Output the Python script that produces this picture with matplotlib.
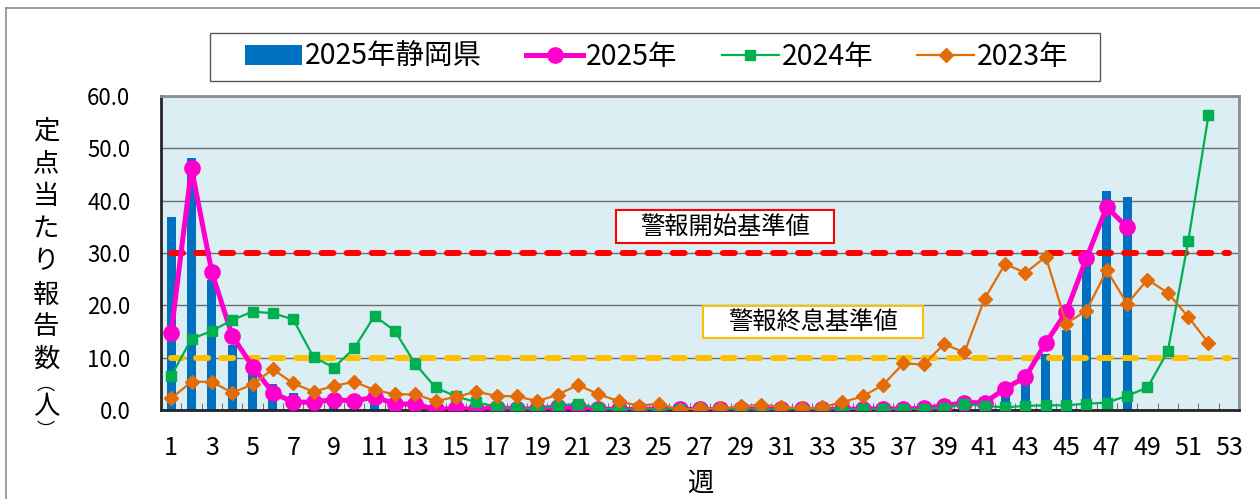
import matplotlib
matplotlib.use('Agg')
import matplotlib.pyplot as plt
from matplotlib.lines import Line2D
from matplotlib.patches import Patch, Rectangle
import numpy as np

plt.rcParams['font.family'] = ['Noto Sans CJK JP', 'DejaVu Sans']

# データ（週ごとの定点当たり報告数）
weeks = np.arange(1, 54)
week_labels = [str(w) for w in range(1, 54, 2)]

shizuoka_2025 = [36.8, 48.2, 24.8, 12.5, 7.5, 5.0, 3.3, 1.5, 1.5, 1.5,
                 3.5, 1.2, 1.0, 0.2, 0.2, 0.1, 0.2, 0.1, 0.1, 0.3,
                 0.3, 0.1, 0.1, 0.1, 0.1, 0.1, 0.1, 0.1, 0.1, 0.1,
                 0.1, 0.1, 0.1, 0.1, 0.1, 0.1, 0.2, 0.3, 0.6, 1.0,
                 1.2, 3.7, 6.5, 10.7, 15.2, 28.0, 41.8, 40.7]
y2025 = [14.7, 46.2, 26.3, 14.2, 8.3, 3.3, 1.5, 1.5, 2.0, 1.7,
         2.5, 1.2, 1.1, 0.1, 0.3, 0.1, 0.4, 0.2, 0.2, 0.6,
         0.5, 0.2, 0.1, 0.1, 0.1, 0.1, 0.1, 0.1, 0.1, 0.1,
         0.1, 0.1, 0.1, 0.1, 0.2, 0.2, 0.2, 0.3, 0.8, 1.4,
         1.4, 4.1, 6.3, 12.8, 18.7, 29.0, 38.8, 34.9]
y2024 = [6.5, 13.6, 15.1, 17.2, 18.8, 18.5, 17.3, 10.1, 8.1, 11.8,
         18.0, 15.1, 8.8, 4.3, 2.6, 1.5, 0.6, 0.3, 0.2, 0.8,
         1.2, 0.3, 0.1, 0.1, 0.1, 0.1, 0.1, 0.1, 0.1, 0.1,
         0.1, 0.1, 0.1, 0.1, 0.1, 0.1, 0.1, 0.2, 0.4, 1.1,
         0.8, 0.5, 0.8, 0.9, 0.9, 1.2, 1.4, 2.7, 4.3, 11.2,
         32.2, 56.3]
y2023 = [2.2, 5.4, 5.4, 3.3, 4.9, 7.8, 5.1, 3.5, 4.6, 5.4,
         3.8, 3.0, 3.0, 1.7, 2.5, 3.5, 2.7, 2.6, 1.7, 2.9,
         4.8, 3.0, 1.7, 0.8, 1.2, 0.0, 0.3, 0.3, 0.7, 1.0,
         0.6, 0.3, 0.5, 1.5, 2.6, 4.8, 8.9, 8.7, 12.6, 11.0,
         21.3, 27.9, 26.2, 29.3, 16.5, 19.0, 26.7, 20.3, 24.9, 22.4,
         17.8, 12.8]

alert_start = 30.0   # 警報開始基準値
alert_end = 10.0     # 警報終息基準値

W, H = 1260, 499
fig = plt.figure(figsize=(W / 100, H / 100), dpi=100)
ax = fig.add_axes([161 / W, 1 - 410 / H, (1239 - 161) / W, (410 - 96) / H])
ax.set_facecolor('#DAEEF3')


def fig_box(x0, y0, x1, y1, ec, lw, fc='none'):
    # ピクセル座標(左上原点)で枠を描く
    r = Rectangle((x0 / W, 1 - y1 / H), (x1 - x0) / W, (y1 - y0) / H,
                  transform=fig.transFigure, fc=fc, ec=ec, lw=lw, zorder=8)
    fig.add_artist(r)


# 棒グラフ（静岡県）
ax.bar(weeks[:len(shizuoka_2025)], shizuoka_2025, width=0.45, color='#0070C0', zorder=2)

# 基準値の破線
ax.plot(weeks, [alert_start] * len(weeks), color='#FF0000', lw=4.3,
        dashes=(2.0, 2.2), dash_capstyle='round', zorder=3)
ax.plot(weeks, [alert_end] * len(weeks), color='#FFC000', lw=4.3,
        dashes=(2.0, 2.2), dash_capstyle='round', zorder=3)

# 折れ線
ax.plot(weeks[:len(y2025)], y2025, color='#FF00CC', lw=3.6, marker='o', ms=11, zorder=4)
ax.plot(weeks[:len(y2024)], y2024, color='#00B050', lw=1.6, marker='s', ms=7, zorder=5)
ax.plot(weeks[:len(y2023)], y2023, color='#E36C09', lw=1.6, marker='D', ms=7, zorder=6)

# 軸
ax.set_xlim(0.5, 53.5)
ax.set_ylim(0, 60)
ax.set_yticks(np.arange(0, 61, 10))
ax.set_yticklabels([f'{v:.1f}' for v in np.arange(0, 61, 10)], fontsize=16)
ax.set_xticks(range(1, 54, 2))
ax.set_xticklabels(week_labels, fontsize=18)
ax.set_xticks(np.arange(1.5, 53, 1), minor=True)
ax.tick_params(axis='y', length=0, pad=22)
ax.tick_params(axis='x', which='major', length=0, pad=18)
ax.tick_params(axis='x', which='minor', length=5, direction='in', color='#595959')
ax.grid(axis='y', color='#6d6d6d', lw=1, zorder=1)
ax.set_axisbelow(True)
for s in ['top', 'right']:
    ax.spines[s].set_color('#8c8c8c')
    ax.spines[s].set_linewidth(2)
for s in ['left', 'bottom']:
    ax.spines[s].set_color('#262626')
    ax.spines[s].set_linewidth(2)

ax.set_xlabel('週', fontsize=19, labelpad=6)

# 縦書きの軸ラベル
ylab_chars = ['定', '点', '当', 'た', 'り', '報', '告', '数', '︵', '人', '︶']
ylab_y = [131, 164, 196, 229, 262, 295, 327, 359, 385, 407, 431]
ylab_fs = [19, 19, 19, 19, 19, 19, 19, 19, 13, 19, 13]
for ch, yy, fs in zip(ylab_chars, ylab_y, ylab_fs):
    fig.text(46 / W, 1 - yy / H, ch, fontsize=fs, ha='center', va='center')

# 基準値ラベル
fig_box(616, 210, 834, 243, '#FF0000', 1.5, fc='white')
fig.text(725 / W, 1 - 226.5 / H, '警報開始基準値', fontsize=17.5,
         ha='center', va='center', zorder=9)
fig_box(703, 306, 923, 338, '#FFC000', 1.5, fc='white')
fig.text(813 / W, 1 - 322 / H, '警報終息基準値', fontsize=17.5,
         ha='center', va='center', zorder=9)

# 凡例
handles = [
    Patch(facecolor='#0070C0', edgecolor='none'),
    Line2D([], [], color='#FF00CC', lw=3.6, marker='o', ms=11),
    Line2D([], [], color='#00B050', lw=1.6, marker='s', ms=7),
    Line2D([], [], color='#E36C09', lw=1.6, marker='D', ms=7),
]
labels = ['2025年静岡県', '2025年', '2024年', '2023年']
fig_box(210, 33, 1100, 81, '#595959', 1, fc='white')
leg = fig.legend(handles, labels, loc='center', bbox_to_anchor=(657 / W, 1 - 57 / H),
                 ncol=4, fontsize=20.5, frameon=False,
                 handlelength=2.0, handleheight=0.7, handletextpad=0.1,
                 columnspacing=1.55, borderpad=0.2)
leg.set_zorder(9)

# 外枠
fig.add_artist(Line2D([6 / W, 6 / W], [0, 1 - 8 / H], color='#8c8c8c', lw=1.2,
                      transform=fig.transFigure))
fig.add_artist(Line2D([6 / W, 1], [1 - 8 / H, 1 - 8 / H], color='#8c8c8c', lw=1.2,
                      transform=fig.transFigure))

fig.savefig('out.png', dpi=100)
